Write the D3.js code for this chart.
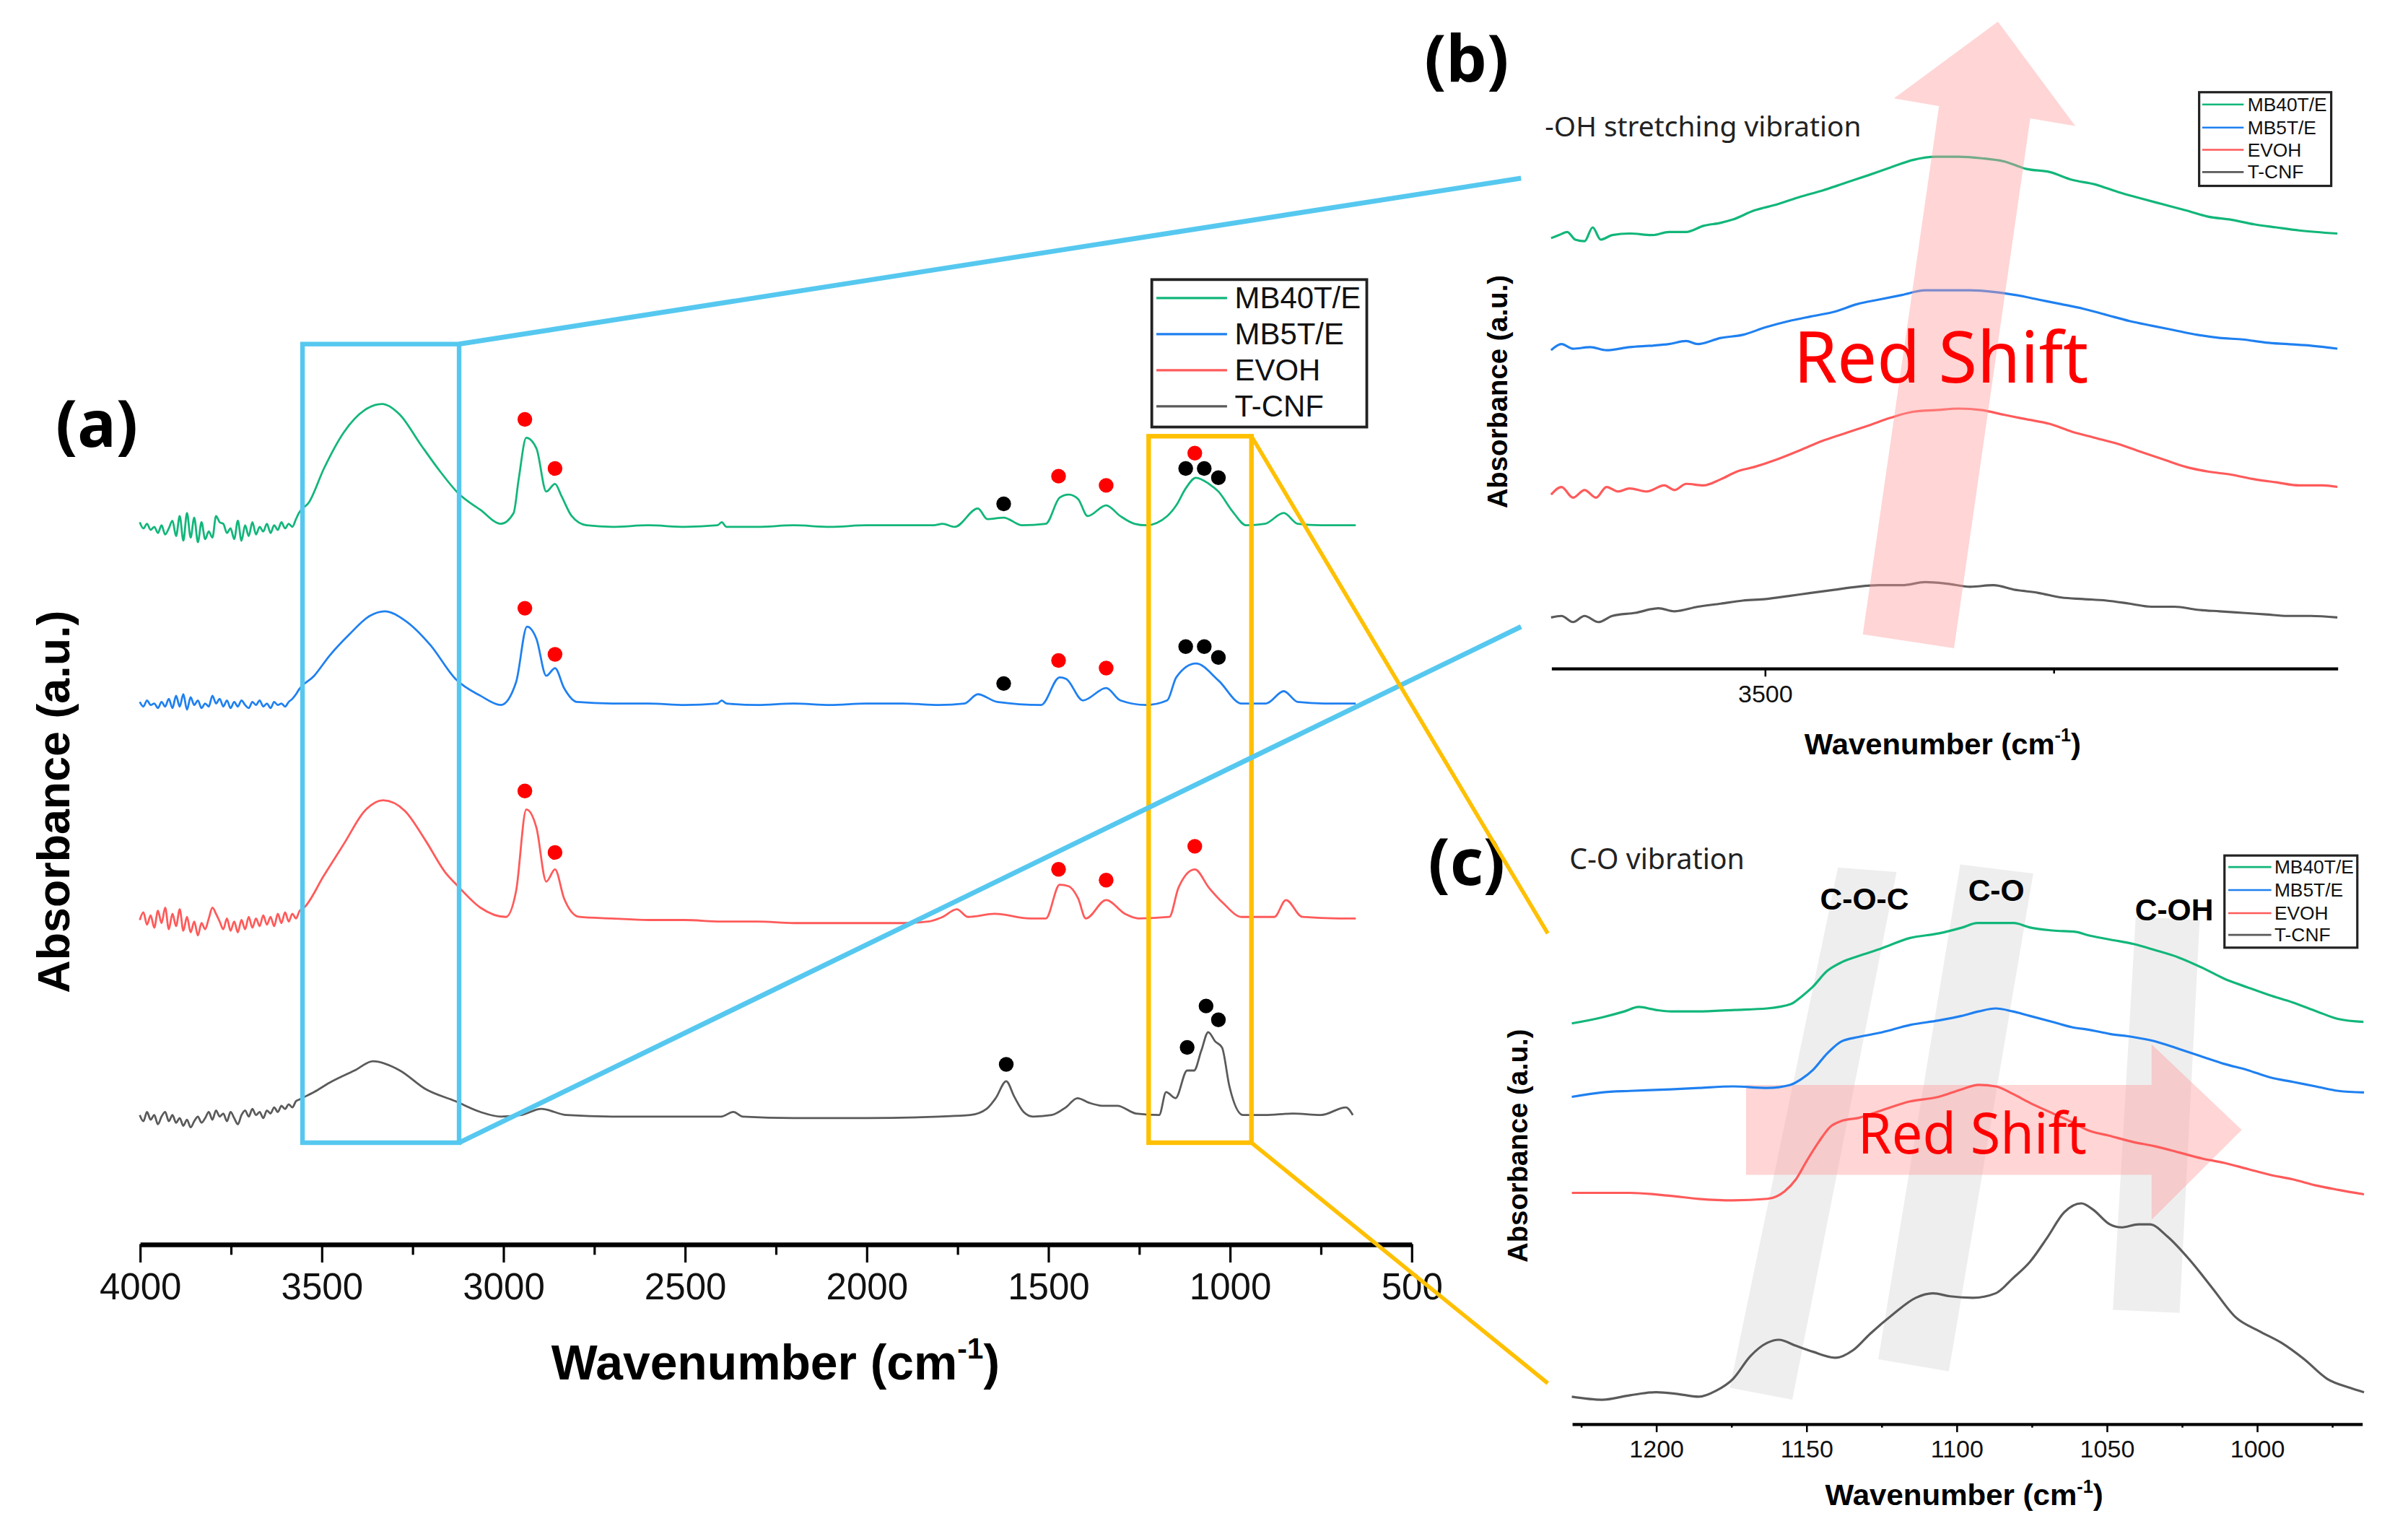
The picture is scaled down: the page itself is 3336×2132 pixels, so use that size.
<!DOCTYPE html>
<html>
<head>
<meta charset="utf-8">
<script src="https://cdn.jsdelivr.net/npm/d3@7"></script>
<style>
html, body { margin: 0; padding: 0; background: #fff; }
svg { display: block; }
</style>
</head>
<body>
<div id="figure"></div>
<script>
// ---------- data ----------
const seriesNames = ["MB40T/E", "MB5T/E", "EVOH", "T-CNF"];

// (a) full FTIR spectra: [wavenumber cm-1, absorbance a.u. (stacked)]
const fullMB40 = [
  [4000,4.70],[3990,4.66],[3980,4.69],[3970,4.65],[3960,4.67],[3950,4.63],[3940,4.68],[3930,4.62],[3920,4.66],[3910,4.71],
  [3900,4.61],[3890,4.74],[3880,4.58],[3870,4.76],[3860,4.60],[3850,4.73],[3840,4.57],[3830,4.70],[3820,4.59],[3810,4.64],
  [3800,4.60],[3790,4.74],[3780,4.70],[3770,4.69],[3760,4.63],[3750,4.66],[3740,4.59],[3730,4.71],[3720,4.58],[3710,4.68],
  [3700,4.61],[3690,4.70],[3680,4.62],[3670,4.67],[3660,4.64],[3650,4.69],[3640,4.63],[3630,4.68],[3620,4.65],[3610,4.70],
  [3600,4.66],[3590,4.69],[3580,4.67],[3570,4.72],[3562,4.76],
  [3534,4.83],[3493,5.05],[3437,5.29],[3381,5.43],[3333,5.47],[3284,5.40],[3228,5.21],[3173,5.03],[3124,4.89],[3062,4.78],
  [3006,4.69],[2971,4.76],[2957,4.98],[2936,5.25],[2908,5.18],[2881,4.90],[2857,4.95],[2839,4.87],[2811,4.74],[2770,4.68],
  [2700,4.67],[2600,4.68],[2500,4.67],[2410,4.68],[2398,4.70],[2385,4.67],[2300,4.67],[2200,4.68],[2100,4.67],[2000,4.68],
  [1900,4.68],[1815,4.68],[1790,4.69],[1757,4.67],[1693,4.79],[1667,4.72],[1622,4.73],[1571,4.68],[1506,4.69],[1468,4.86],
  [1443,4.88],[1417,4.85],[1391,4.74],[1340,4.81],[1301,4.74],[1262,4.69],[1230,4.68],[1172,4.74],[1147,4.81],[1121,4.92],
  [1093,4.99],[1057,4.95],[1031,4.90],[992,4.77],[954,4.68],[903,4.69],[851,4.76],[813,4.69],[749,4.68],[700,4.68],[653,4.68]
];
const fullMB5 = [
  [4000,3.53],[3990,3.50],[3980,3.54],[3970,3.51],[3960,3.52],[3950,3.49],[3940,3.53],[3930,3.50],[3920,3.55],[3910,3.49],
  [3900,3.57],[3890,3.50],[3880,3.58],[3870,3.48],[3860,3.56],[3850,3.51],[3840,3.54],[3830,3.49],[3820,3.52],[3810,3.50],
  [3800,3.57],[3790,3.52],[3780,3.55],[3770,3.50],[3760,3.54],[3750,3.49],[3740,3.53],[3730,3.50],[3720,3.54],[3710,3.51],
  [3700,3.49],[3690,3.53],[3680,3.51],[3670,3.54],[3660,3.50],[3650,3.52],[3640,3.49],[3630,3.53],[3620,3.51],[3610,3.52],
  [3600,3.50],[3590,3.53],[3580,3.55],[3570,3.58],[3562,3.61],
  [3520,3.70],[3478,3.83],[3423,3.97],[3367,4.09],[3326,4.12],[3270,4.06],[3200,3.90],[3131,3.68],[3062,3.57],[3006,3.51],
  [2964,3.66],[2934,4.02],[2908,3.94],[2881,3.70],[2857,3.75],[2832,3.62],[2797,3.53],
  [2700,3.52],[2600,3.52],[2500,3.51],[2410,3.52],[2398,3.54],[2385,3.52],[2300,3.51],[2200,3.52],[2100,3.51],[2000,3.52],
  [1900,3.52],[1800,3.51],[1730,3.52],[1693,3.58],[1640,3.53],[1519,3.51],[1468,3.69],[1450,3.68],[1404,3.54],[1340,3.62],
  [1301,3.54],[1230,3.51],[1172,3.54],[1147,3.69],[1093,3.78],[1031,3.67],[967,3.52],[900,3.52],[851,3.60],[813,3.53],
  [740,3.52],[653,3.52]
];
const fullEVOH = [
  [4000,2.11],[3990,2.16],[3980,2.08],[3970,2.14],[3960,2.06],[3950,2.17],[3940,2.09],[3930,2.19],[3920,2.05],[3910,2.15],
  [3900,2.07],[3890,2.18],[3880,2.04],[3870,2.13],[3860,2.03],[3850,2.10],[3840,2.01],[3830,2.09],[3820,2.05],[3810,2.12],
  [3800,2.19],[3790,2.15],[3780,2.10],[3770,2.05],[3760,2.12],[3750,2.04],[3740,2.10],[3730,2.03],[3720,2.11],[3710,2.05],
  [3700,2.13],[3690,2.06],[3680,2.12],[3670,2.07],[3660,2.14],[3650,2.08],[3640,2.13],[3630,2.07],[3620,2.15],[3610,2.09],
  [3600,2.16],[3590,2.10],[3580,2.15],[3570,2.12],[3560,2.17],
  [3548,2.19],[3493,2.40],[3437,2.61],[3381,2.82],[3330,2.89],[3270,2.82],[3214,2.63],[3159,2.42],[3124,2.33],[3062,2.19],
  [2992,2.13],[2964,2.30],[2936,2.83],[2908,2.71],[2881,2.36],[2857,2.44],[2832,2.25],[2790,2.13],
  [2700,2.12],[2600,2.11],[2500,2.11],[2400,2.10],[2300,2.10],[2200,2.09],[2100,2.09],[2000,2.09],[1900,2.09],[1830,2.10],
  [1790,2.13],[1751,2.18],[1720,2.13],[1647,2.15],[1549,2.12],[1506,2.12],[1468,2.34],[1443,2.33],[1417,2.25],[1396,2.12],
  [1340,2.24],[1288,2.15],[1250,2.12],[1166,2.13],[1141,2.32],[1096,2.44],[1057,2.32],[1018,2.22],[967,2.13],[877,2.13],
  [845,2.24],[800,2.13],[700,2.12],[653,2.12]
];
const fullTCNF = [
  [4000,0.84],[3990,0.80],[3980,0.86],[3970,0.81],[3960,0.84],[3950,0.78],[3940,0.83],[3930,0.86],[3920,0.80],[3910,0.84],
  [3900,0.79],[3890,0.82],[3880,0.77],[3870,0.81],[3860,0.76],[3850,0.80],[3840,0.83],[3830,0.79],[3820,0.82],[3810,0.86],
  [3800,0.81],[3790,0.87],[3780,0.83],[3770,0.85],[3760,0.80],[3750,0.86],[3740,0.82],[3730,0.78],[3720,0.84],[3710,0.87],
  [3700,0.83],[3690,0.88],[3680,0.84],[3670,0.86],[3660,0.82],[3650,0.87],[3640,0.85],[3630,0.89],[3620,0.86],[3610,0.90],
  [3600,0.88],[3590,0.91],[3580,0.89],[3570,0.93],[3562,0.94],
  [3520,0.99],[3478,1.05],[3409,1.13],[3358,1.19],[3284,1.13],[3214,1.01],[3131,0.93],[3062,0.86],[3006,0.83],[2950,0.84],
  [2895,0.88],[2825,0.84],[2700,0.83],[2500,0.83],[2400,0.83],[2366,0.86],[2340,0.83],[2200,0.82],[2000,0.82],[1800,0.83],
  [1714,0.84],[1669,0.88],[1644,0.95],[1615,1.06],[1593,0.96],[1567,0.86],[1541,0.83],[1490,0.84],[1451,0.89],[1419,0.95],
  [1387,0.92],[1348,0.90],[1309,0.90],[1258,0.85],[1194,0.84],[1175,0.99],[1149,0.95],[1117,1.13],[1098,1.13],[1078,1.26],
  [1059,1.38],[1040,1.32],[1021,1.28],[1001,1.03],[963,0.84],[903,0.84],[826,0.85],[749,0.84],[680,0.89],[661,0.84]
];

// peak marks: [wavenumber, absorbance, assignment group] (E = EVOH band, C = T-CNF band)
const marksMB40 = [[2940,5.37,"E"],[2857,5.05,"E"],[1622,4.82,"C"],[1471,5.00,"E"],[1340,4.94,"E"],
                   [1121,5.05,"C"],[1096,5.15,"E"],[1070,5.05,"C"],[1031,4.99,"C"]];
const marksMB5  = [[2940,4.14,"E"],[2857,3.84,"E"],[1622,3.65,"C"],[1471,3.80,"E"],[1340,3.75,"E"],
                   [1121,3.89,"C"],[1070,3.89,"C"],[1031,3.82,"C"]];
const marksEVOH = [[2940,2.95,"E"],[2857,2.55,"E"],[1471,2.44,"E"],[1340,2.37,"E"],[1096,2.59,"E"]];
const marksTCNF = [[1615,1.17,"C"],[1117,1.28,"C"],[1065,1.55,"C"],[1031,1.46,"C"]];

const fullTicks = [4000, 3500, 3000, 2500, 2000, 1500, 1000, 500];
const fullMinorTicks = [3750, 3250, 2750, 2250, 1750, 1250, 750];

// zoom windows marked on (a): [wn from, wn to], [a.u. top, a.u. bottom]
const ohWindow = [3552, 3121], ohSpan = [5.86, 0.66];
const coWindow = [1223, 940],  coSpan = [5.26, 0.66];

// (b) -OH stretching region
const ohMB40 = [[3685,2.80],[3678,2.82],[3671,2.84],[3664,2.79],[3656,2.78],[3649,2.87],[3642,2.79],[3632,2.82],[3617,2.83],
  [3597,2.82],[3583,2.84],[3568,2.84],[3553,2.88],[3538,2.90],[3528,2.92],[3509,2.98],[3489,3.02],[3469,3.07],[3450,3.11],
  [3430,3.16],[3410,3.21],[3391,3.26],[3371,3.31],[3352,3.33],[3332,3.33],[3312,3.32],[3293,3.30],[3273,3.25],[3253,3.23],
  [3234,3.18],[3214,3.15],[3194,3.10],[3175,3.06],[3155,3.02],[3135,2.98],[3116,2.94],[3096,2.92],[3076,2.89],[3057,2.87],
  [3037,2.85],[3004,2.83]];
const ohMB5 = [[3685,2.07],[3676,2.11],[3666,2.08],[3651,2.09],[3637,2.07],[3617,2.09],[3597,2.10],[3583,2.11],[3568,2.13],
  [3558,2.11],[3538,2.15],[3519,2.17],[3499,2.22],[3479,2.26],[3460,2.29],[3440,2.32],[3420,2.37],[3401,2.40],[3381,2.43],
  [3361,2.46],[3342,2.46],[3322,2.46],[3302,2.45],[3283,2.43],[3263,2.40],[3243,2.37],[3224,2.34],[3204,2.30],[3184,2.26],
  [3165,2.23],[3145,2.20],[3125,2.17],[3106,2.15],[3086,2.14],[3066,2.12],[3047,2.11],[3027,2.10],[3004,2.08]];
const ohEVOH = [[3685,1.13],[3676,1.18],[3666,1.11],[3656,1.16],[3646,1.11],[3637,1.18],[3627,1.15],[3617,1.17],[3602,1.15],
  [3587,1.19],[3578,1.16],[3568,1.20],[3553,1.19],[3538,1.23],[3524,1.28],[3509,1.31],[3489,1.36],[3469,1.42],[3450,1.48],
  [3430,1.53],[3410,1.58],[3391,1.63],[3371,1.67],[3352,1.68],[3332,1.69],[3312,1.68],[3293,1.65],[3273,1.62],[3253,1.59],
  [3234,1.54],[3214,1.50],[3194,1.46],[3175,1.41],[3155,1.36],[3135,1.31],[3116,1.28],[3096,1.26],[3076,1.23],[3057,1.21],
  [3037,1.19],[3017,1.19],[3004,1.18]];
const ohTCNF = [[3685,0.33],[3676,0.34],[3666,0.30],[3656,0.34],[3644,0.30],[3632,0.34],[3612,0.36],[3592,0.39],[3578,0.37],
  [3558,0.40],[3538,0.42],[3519,0.44],[3499,0.45],[3479,0.47],[3460,0.49],[3440,0.51],[3420,0.53],[3401,0.54],[3381,0.54],
  [3361,0.56],[3342,0.55],[3322,0.53],[3302,0.54],[3283,0.51],[3263,0.49],[3243,0.46],[3224,0.45],[3204,0.44],[3184,0.42],
  [3165,0.40],[3145,0.40],[3125,0.38],[3106,0.37],[3086,0.36],[3066,0.35],[3047,0.34],[3027,0.34],[3004,0.33]];
const ohTicks = [3500], ohMinorTicks = [3250];
const ohArrow = [[3298,4.21],[3231,3.53],[3270,3.58],[3336,0.13],[3415,0.22],[3349,3.66],[3388,3.71]];

// (c) C-O region
const coMB40 = [[1228,2.67],[1218,2.71],[1210.5,2.75],[1205.7,2.78],[1200,2.76],[1195,2.75],[1186,2.75],[1174,2.76],[1163,2.77],
  [1155,2.80],[1151.5,2.85],[1148,2.91],[1143,3.02],[1138,3.08],[1132.5,3.12],[1125,3.17],[1115.4,3.24],[1106,3.27],
  [1098,3.31],[1093,3.34],[1087,3.34],[1081,3.34],[1075.5,3.31],[1068,3.29],[1060,3.28],[1056.5,3.26],[1049,3.23],
  [1041,3.20],[1034,3.16],[1026,3.11],[1018,3.04],[1011,2.97],[1003,2.91],[996,2.86],[988,2.81],[980,2.75],[973,2.70],[964.5,2.68]];
const coMB5 = [[1228,2.18],[1218,2.21],[1208.6,2.22],[1195.2,2.23],[1185.7,2.24],[1174.3,2.25],[1162.9,2.24],[1155.3,2.26],
  [1151.5,2.30],[1147.7,2.36],[1143,2.47],[1138.2,2.55],[1132.5,2.58],[1124.9,2.61],[1115.4,2.66],[1105.9,2.69],[1098.3,2.72],
  [1092.6,2.75],[1086.9,2.77],[1081.2,2.75],[1075.5,2.72],[1067.9,2.68],[1060.3,2.64],[1056.5,2.63],[1048.9,2.60],
  [1041.3,2.58],[1033.7,2.55],[1026,2.50],[1018.4,2.45],[1010.8,2.40],[1003.2,2.36],[995.6,2.31],[988,2.28],[980.4,2.25],
  [972.8,2.22],[964.3,2.21]];
const coEVOH = [[1228,1.54],[1218,1.54],[1208.6,1.54],[1195.2,1.52],[1185.7,1.50],[1174.3,1.49],[1162.9,1.50],[1157.2,1.55],
  [1153.4,1.63],[1149.6,1.76],[1145.8,1.88],[1142,1.98],[1138.2,2.02],[1132.5,2.04],[1124.9,2.09],[1115.4,2.15],[1105.9,2.18],
  [1098.3,2.23],[1092.6,2.26],[1086.9,2.25],[1081.2,2.20],[1075.5,2.14],[1067.9,2.07],[1060.3,2.00],[1056.5,1.96],
  [1048.9,1.92],[1041.3,1.88],[1033.7,1.85],[1026,1.81],[1018.4,1.77],[1010.8,1.74],[1003.2,1.70],[995.6,1.66],[988,1.63],
  [980.4,1.59],[972.8,1.56],[964.3,1.53]];
const coTCNF = [[1228,0.18],[1218,0.16],[1208.6,0.19],[1200,0.21],[1193.3,0.20],[1185.7,0.18],[1180,0.22],[1174.3,0.30],
  [1168.6,0.45],[1162.9,0.54],[1159.1,0.56],[1153.4,0.52],[1147.7,0.48],[1140.1,0.44],[1134.4,0.49],[1128.7,0.60],
  [1121.1,0.73],[1113.5,0.84],[1107.8,0.87],[1102.1,0.85],[1094.5,0.84],[1086.9,0.87],[1081.2,0.97],[1075.5,1.08],
  [1069.8,1.24],[1064.1,1.41],[1058.4,1.47],[1054.6,1.43],[1048.9,1.33],[1045.1,1.31],[1039.4,1.33],[1035.6,1.33],
  [1029.8,1.25],[1022.2,1.09],[1014.6,0.90],[1007,0.71],[999.4,0.62],[991.8,0.54],[984.2,0.43],[976.6,0.30],[969,0.24],[964.3,0.21]];
const coTicks = [1200, 1150, 1100, 1050, 1000], coMinorTicks = [1225, 1175, 1125, 1075, 1025, 975];
const coBands = [
  { label: "C-O-C", at: [1130.6, 3.50], corners: [[1139.4,3.71],[1119.9,3.68],[1154.6,0.16],[1175.4,0.24]] },
  { label: "C-O",   at: [1086.7, 3.56], corners: [[1098.7,3.73],[1074.4,3.67],[1102.5,0.35],[1126,0.43]] },
  { label: "C-OH",  at: [1027.5, 3.43], corners: [[1040.3,3.38],[1019,3.36],[1025.7,0.74],[1047.9,0.76]] }
];
const coArrow = [[1170,2.26],[1035,2.26],[1035,2.53],[1005,1.96],[1035,1.36],[1035,1.66],[1170,1.66]];

// ---------- drawing ----------
const W = 1568, H = 1002;
const SANS = "'Liberation Sans', Arial, Helvetica, sans-serif";
const KSANS = "'Noto Sans', 'Open Sans', sans-serif";
const colors = ["#12b67a", "#1f80f0", "#ff5a5a", "#5a5a5a"];
const markColors = { E: "#ff0000", C: "#000000" };
const CYAN = "#56c8ef", GOLD = "#ffc000";

const svg = d3.select("#figure").append("svg")
  .attr("width", 3336).attr("height", 2132)
  .attr("viewBox", `0 0 ${W} ${H}`);

const xA = d3.scaleLinear().domain([4000, 500]).range([91, 919]);
const yA = d3.scaleLinear().domain([0, 6]).range([810, 210]);
const xB = d3.scaleLinear().domain([3685, 3004]).range([1010, 1522]);
const yB = d3.scaleLinear().domain([0, 4.35]).range([435, 0]);
const xC = d3.scaleLinear().domain([1228, 965]).range([1023.5, 1538]);
const yC = d3.scaleLinear().domain([0, 4]).range([927, 536.5]);

function spectrum(x, y) {
  return d3.line().x(d => x(d[0])).y(d => y(d[1])).curve(d3.curveMonotoneX);
}
function polygon(x, y) {
  return d3.line().x(d => x(d[0])).y(d => y(d[1]));
}
function drawCurves(sets, x, y, lw) {
  svg.append("g").selectAll("path").data(sets).join("path")
    .attr("d", d => spectrum(x, y)(d))
    .attr("fill", "none")
    .attr("stroke", (d, i) => colors[i])
    .attr("stroke-width", lw)
    .attr("stroke-linejoin", "round");
}
function bottomAxis(x, yPos, major, minor, o) {
  const gm = svg.append("g").attr("transform", `translate(0,${yPos})`)
    .call(d3.axisBottom(x).tickValues(minor).tickSize(o.minor).tickSizeOuter(0).tickFormat(""));
  gm.select(".domain").remove();
  gm.selectAll(".tick line").attr("stroke", "#000").attr("stroke-width", o.tw);
  const g = svg.append("g").attr("transform", `translate(0,${yPos})`)
    .call(d3.axisBottom(x).tickValues(major).tickSize(o.major).tickSizeOuter(0)
      .tickPadding(o.pad).tickFormat(d3.format("d")));
  g.select(".domain").attr("stroke", "#000").attr("stroke-width", o.lw);
  g.selectAll(".tick line").attr("stroke", "#000").attr("stroke-width", o.tw);
  g.selectAll(".tick text").attr("font-family", SANS).attr("font-size", o.fs).attr("fill", "#111");
}
function wavTitle(cx, by, fs, len) {
  const t = svg.append("text").attr("x", cx).attr("y", by).attr("text-anchor", "middle")
    .attr("font-family", SANS).attr("font-weight", "bold").attr("font-size", fs).attr("fill", "#000");
  t.append("tspan").text("Wavenumber (cm");
  t.append("tspan").attr("dy", -fs * 0.42).attr("font-size", fs * 0.6).text("-1");
  t.append("tspan").attr("dy", fs * 0.42).text(")");
  t.attr("textLength", len).attr("lengthAdjust", "spacingAndGlyphs");
}
function yTitle(cx, cy, fs) {
  svg.append("text").attr("transform", `translate(${cx},${cy}) rotate(-90)`)
    .attr("text-anchor", "middle").attr("dominant-baseline", "central")
    .attr("font-family", SANS).attr("font-weight", "bold").attr("font-size", fs)
    .text("Absorbance (a.u.)");
}
function legend(box, rows, sample, textX, fs, lw) {
  const g = svg.append("g");
  g.append("rect").attr("x", box[0]).attr("y", box[1]).attr("width", box[2]).attr("height", box[3])
    .attr("fill", "#fff").attr("stroke", "#222").attr("stroke-width", lw + 0.3);
  seriesNames.forEach((name, i) => {
    g.append("line").attr("x1", sample[0]).attr("x2", sample[1]).attr("y1", rows[i]).attr("y2", rows[i])
      .attr("stroke", colors[i]).attr("stroke-width", lw);
    g.append("text").attr("x", textX).attr("y", rows[i]).attr("dominant-baseline", "central")
      .attr("font-family", SANS).attr("font-size", fs).attr("fill", "#111").text(name);
  });
}
function panelTag(txt, cx, by) {
  svg.append("text").attr("x", cx).attr("y", by).attr("text-anchor", "middle")
    .attr("font-family", KSANS).attr("font-weight", "bold").attr("font-size", 42).text(txt);
}

// ----- panel (a)
drawCurves([fullMB40, fullMB5, fullEVOH, fullTCNF], xA, yA, 1.3);
const marks = [].concat(marksMB40, marksMB5, marksEVOH, marksTCNF);
svg.append("g").selectAll("circle").data(marks).join("circle")
  .attr("cx", d => xA(d[0])).attr("cy", d => yA(d[1])).attr("r", 4.8)
  .attr("fill", d => markColors[d[2]]);
bottomAxis(xA, 810, fullTicks, fullMinorTicks, { major: 12, minor: 7, pad: 7, fs: 24, lw: 3, tw: 1.5 });
wavTitle(505, 898, 32, 292);
yTitle(35, 522, 29.5);
legend([750, 182, 140, 96], [194, 217.5, 241, 264.5], [753, 799], 804, 19.7, 1.5);
panelTag("(a)", 63, 291);

// zoom windows
svg.append("rect")
  .attr("x", xA(ohWindow[0])).attr("y", yA(ohSpan[0]))
  .attr("width", xA(ohWindow[1]) - xA(ohWindow[0])).attr("height", yA(ohSpan[1]) - yA(ohSpan[0]))
  .attr("fill", "none").attr("stroke", CYAN).attr("stroke-width", 3);
svg.append("rect")
  .attr("x", xA(coWindow[0])).attr("y", yA(coSpan[0]))
  .attr("width", xA(coWindow[1]) - xA(coWindow[0])).attr("height", yA(coSpan[1]) - yA(coSpan[0]))
  .attr("fill", "none").attr("stroke", GOLD).attr("stroke-width", 3);

// ----- panel (b)
drawCurves([ohMB40, ohMB5, ohEVOH, ohTCNF], xB, yB, 1.5);
svg.append("path").attr("d", polygon(xB, yB)(ohArrow) + "Z")
  .attr("fill", "#ff9a9a").attr("fill-opacity", 0.42);
svg.append("text").attr("x", xB(3475)).attr("y", yB(1.86))
  .attr("font-family", KSANS).attr("font-size", 46).attr("fill", "#ff0000")
  .attr("textLength", 192).attr("lengthAdjust", "spacingAndGlyphs").text("Red Shift");
bottomAxis(xB, 435, ohTicks, ohMinorTicks, { major: 5.5, minor: 3.5, pad: 5.5, fs: 16, lw: 2, tw: 1.2 });
wavTitle(1265, 491, 19.5, 180);
yTitle(975, 255, 18);
svg.append("text").attr("x", 1006).attr("y", 89).attr("font-family", KSANS).attr("font-size", 18)
  .attr("fill", "#222").attr("textLength", 206).attr("lengthAdjust", "spacingAndGlyphs")
  .text("-OH stretching vibration");
legend([1432, 60, 86, 61], [68, 83, 97.5, 112], [1434, 1461], 1463.5, 12.4, 1.2);
panelTag("(b)", 955, 53);

// ----- panel (c)
svg.append("g").selectAll("path").data(coBands).join("path")
  .attr("d", d => polygon(xC, yC)(d.corners) + "Z")
  .attr("fill", "#ebebeb").attr("fill-opacity", 0.85);
svg.append("path").attr("d", polygon(xC, yC)(coArrow) + "Z")
  .attr("fill", "#ff9a9a").attr("fill-opacity", 0.42);
drawCurves([coMB40, coMB5, coEVOH, coTCNF], xC, yC, 1.5);
svg.append("text").attr("x", xC(1132.8)).attr("y", yC(1.80))
  .attr("font-family", KSANS).attr("font-size", 37).attr("fill", "#ff0000")
  .attr("textLength", 149).attr("lengthAdjust", "spacingAndGlyphs").text("Red Shift");
svg.append("g").selectAll("text").data(coBands).join("text")
  .attr("x", d => xC(d.at[0])).attr("y", d => yC(d.at[1]))
  .attr("text-anchor", "middle").attr("dominant-baseline", "central")
  .attr("font-family", SANS).attr("font-weight", "bold").attr("font-size", 20)
  .text(d => d.label);
bottomAxis(xC, 927, coTicks, coMinorTicks, { major: 5.5, minor: 2.5, pad: 5, fs: 16, lw: 2, tw: 1.2 });
wavTitle(1279, 980, 19.5, 181);
yTitle(988, 746, 18);
svg.append("text").attr("x", 1022).attr("y", 566).attr("font-family", KSANS).attr("font-size", 18.5)
  .attr("fill", "#222").attr("textLength", 114).attr("lengthAdjust", "spacingAndGlyphs")
  .text("C-O vibration");
legend([1448.5, 557, 86.5, 60], [564.5, 579.5, 594.5, 608.7], [1451, 1479], 1481, 12.4, 1.2);
panelTag("(c)", 955, 576);

// connectors from the (a) windows to the zoomed panels
const links = [
  [xA(ohWindow[1]), yA(ohSpan[0]), xB(3711), yB(3.19), CYAN, 3.2],
  [xA(ohWindow[1]), yA(ohSpan[1]), xB(3711), yB(0.27), CYAN, 3.2],
  [xA(coWindow[1]), yA(coSpan[0]), xC(1236), yC(3.27), GOLD, 2.6],
  [xA(coWindow[1]), yA(coSpan[1]), xC(1236), yC(0.27), GOLD, 2.6]
];
svg.append("g").selectAll("line").data(links).join("line")
  .attr("x1", d => d[0]).attr("y1", d => d[1]).attr("x2", d => d[2]).attr("y2", d => d[3])
  .attr("stroke", d => d[4]).attr("stroke-width", d => d[5]);
</script>
</body>
</html>
